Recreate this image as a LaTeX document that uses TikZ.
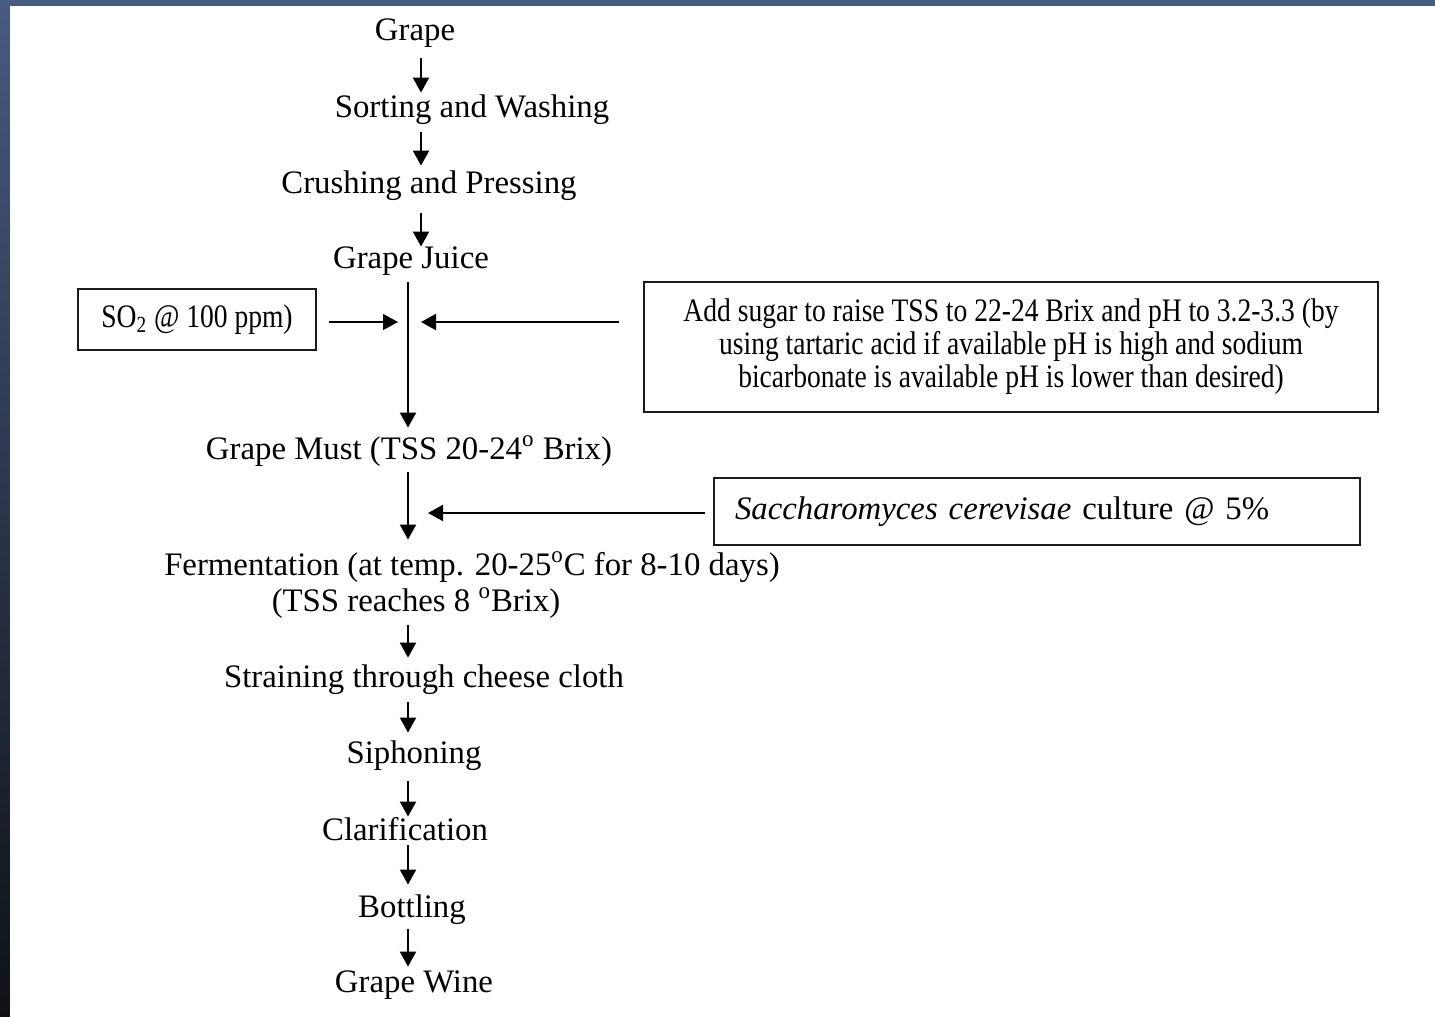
\documentclass[tikz,border=0pt]{standalone}
\usepackage{fontspec}
\setmainfont{Liberation Serif}
\newfontfamily\condfont[FakeStretch=0.84]{Liberation Serif}
\usetikzlibrary{arrows.meta}
\definecolor{frameblue}{HTML}{475A80}
\definecolor{framemid}{HTML}{2A3449}
\definecolor{framedark}{HTML}{0F1116}
\definecolor{boxline}{HTML}{1A1A1A}
\begin{document}
\begin{tikzpicture}[x=0.5pt,y=-0.5pt,
  lbl/.style={font=\fontsize{16.4}{19}\selectfont, inner sep=0pt, text height=11.5pt, text depth=4.1pt, anchor=base},
  flow/.style={-{Triangle[width=8pt,length=7.5pt]}, line width=1pt},
  thinflow/.style={-{Triangle[width=8pt,length=7.5pt]}, line width=0.6pt},
  inbox/.style={draw=boxline, line width=1pt, inner sep=0pt, font=\condfont\fontsize{16.4}{16.5}\selectfont}
]
% frame and background
\useasboundingbox (0,0) rectangle (1435,1017);
\fill[frameblue] (0,0) rectangle (1435,6);
\shade[top color=frameblue, middle color=framemid, bottom color=framedark] (0,0) rectangle (10,1017);
\fill[white] (10,6) rectangle (1435,1017);

% spine reference coordinates
\coordinate (sp1) at (421,0);
\coordinate (sp2) at (408,0);
\coordinate (j1) at (408,322);
\coordinate (j2) at (408,513);

% main flow text
\node[lbl] (grape)  at (415,40)  {Grape};
\node[lbl] (sort)   at (472,117) {Sorting and Washing};
\node[lbl] (crush)  at (429,193) {Crushing and Pressing};
\node[lbl] (juice)  at (411,268) {Grape Juice};
\node[lbl] (must)   at (409,459) {Grape Must (TSS 20-24\textsuperscript{o} Brix)};
\node[lbl] (ferm)   at (472,575) {Fermentation (at temp. 20-25\textsuperscript{o}C for 8-10 days)};
\node[lbl] (ferm2)  at (416,611) {(TSS reaches 8 \textsuperscript{o}Brix)};
\node[lbl] (strain) at (424,687) {Straining through cheese cloth};
\node[lbl] (siph)   at (414,763) {Siphoning};
\node[lbl] (clar)   at (405,840) {Clarification};
\node[lbl] (bott)   at (412,917) {Bottling};
\node[lbl] (wine)   at (414,992) {Grape Wine};

% side boxes
\node[inbox, minimum width=119pt, minimum height=30.5pt] (so2) at (197,319.5) {SO\textsubscript{2} @ 100 ppm)};
\node[inbox, minimum width=367pt, minimum height=65pt, align=center] (add) at (1011,347)
  {Add sugar to raise TSS to 22-24 Brix and pH to 3.2-3.3 (by\\
   using tartaric acid if available pH is high and sodium\\
   bicarbonate is available pH is lower than desired)};
\node[draw=boxline, line width=1pt, inner ysep=0pt, inner xsep=10.5pt, text width=302pt,
      minimum height=33.5pt, align=left, font=\fontsize{16.4}{19}\selectfont] (yeast) at (1037,511.5)
  {\textit{Saccharomyces cerevisae} culture @ 5\%};

% connectors
\draw[flow, shorten <=4.9pt, shorten >=0.5pt] (grape.south -| sp1) -- (sort.north -| sp1);
\draw[flow, shorten <=3.4pt, shorten >=2pt] (sort.south -| sp1) -- (crush.north -| sp1);
\draw[flow, shorten <=5.9pt, shorten >=-1pt] (crush.south -| sp1) -- (juice.north -| sp1);
\draw[flow, shorten <=2.9pt, shorten >=4pt] (juice.south -| sp2) -- (must.north -| sp2);
\draw[thinflow, shorten <=6pt, shorten >=5pt] (so2.east |- j1) -- (j1);
\draw[flow, shorten <=12pt, shorten >=6.5pt] (add.west |- j1) -- (j1);
\draw[flow, shorten <=2.4pt, shorten >=6pt] (must.south -| sp2) -- (ferm.north -| sp2);
\draw[flow, shorten <=4pt, shorten >=10pt] (yeast.west |- j2) -- (j2);
\draw[flow, shorten <=2.9pt, shorten >=3pt] (ferm2.south -| sp2) -- (strain.north -| sp2);
\draw[flow, shorten <=3.4pt, shorten >=3.5pt] (strain.south -| sp2) -- (siph.north -| sp2);
\draw[flow, shorten <=4.9pt, shorten >=0pt] (siph.south -| sp2) -- (clar.north -| sp2);
\draw[flow, shorten <=-1.6pt, shorten >=4.5pt] (clar.south -| sp2) -- (bott.north -| sp2);
\draw[flow, shorten <=1.9pt, shorten >=1pt] (bott.south -| sp2) -- (wine.north -| sp2);
\end{tikzpicture}
\end{document}
